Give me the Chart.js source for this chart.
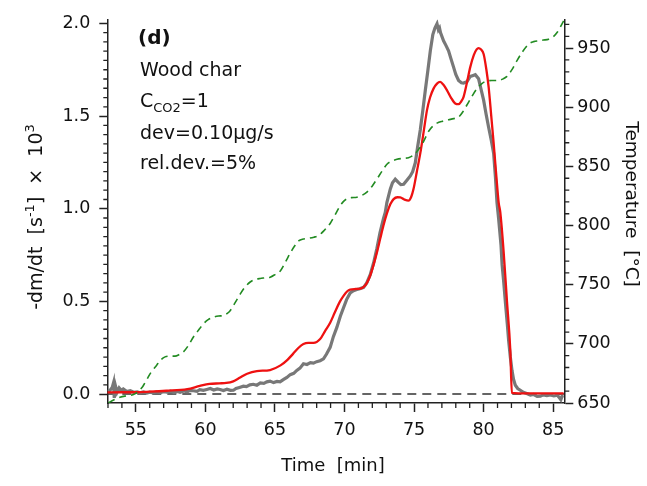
<!DOCTYPE html>
<html>
<head>
<meta charset="utf-8">
<script src="https://cdn.jsdelivr.net/npm/chart.js@4.4.1/dist/chart.umd.min.js"></script>
<style>
  html, body { margin: 0; padding: 0; background: #fff; }
</style>
</head>
<body>
<canvas id="tgaChart" width="647" height="486"></canvas>
<script>
// measured mass loss rate (grey), -dm/dt x 10^3 [1/s]
const timeMeasured = [
  53.0, 53.15, 53.3, 53.4, 53.45, 53.55, 53.65, 53.8, 53.95, 54.1, 54.35, 54.6, 54.85, 55.1, 55.3,
  55.55, 55.8, 56.0, 56.26, 56.5, 56.75, 57.0, 57.22, 57.5, 57.75, 58.0, 58.18, 58.45, 58.7, 58.9,
  59.14, 59.4, 59.6, 59.85, 60.1, 60.35, 60.6, 60.85, 61.06, 61.3, 61.55, 61.8, 62.02, 62.2, 62.45,
  62.73, 62.95, 63.2, 63.45, 63.7, 63.95, 64.2, 64.42, 64.65, 64.9, 65.15, 65.37, 65.6, 65.86, 66.1,
  66.35, 66.57, 66.8, 67.05, 67.3, 67.55, 67.77, 68.0, 68.25, 68.49, 68.7, 68.97, 69.2, 69.45, 69.7,
  69.93, 70.15, 70.41, 70.65, 70.89, 71.1, 71.37, 71.6, 71.85, 72.1, 72.33, 72.55, 72.8, 72.93, 73.05,
  73.29, 73.45, 73.65, 73.89, 74.05, 74.25, 74.5, 74.73, 74.9, 75.09, 75.25, 75.45, 75.63, 75.81, 76.0,
  76.17, 76.35, 76.5, 76.65, 76.75, 76.83, 76.9, 77.12, 77.3, 77.48, 77.65, 77.84, 78.0, 78.2, 78.4,
  78.56, 78.8, 79.04, 79.2, 79.4, 79.64, 79.8, 80.0, 80.18, 80.36, 80.55, 80.72, 80.85, 80.96, 81.08,
  81.25, 81.33, 81.45, 81.56, 81.7, 81.8, 81.92, 82.04, 82.15, 82.28, 82.45, 82.64, 82.85, 83.1, 83.36,
  83.6, 83.85, 84.08, 84.3, 84.55, 84.8, 85.05, 85.3, 85.45, 85.55, 85.65, 85.75
];
const rateMeasured = [
  0.015, 0.021, 0.035, 0.062, -0.02, 0.04, 0.01, 0.033, 0.02, 0.028, 0.014, 0.018, 0.01, 0.012, 0.007,
  0.012, 0.006, 0.01, 0.007, 0.012, 0.008, 0.013, 0.011, 0.016, 0.008, 0.014, 0.01, 0.017, 0.012, 0.02,
  0.018, 0.015, 0.024, 0.02, 0.025, 0.03, 0.022, 0.028, 0.025, 0.019, 0.026, 0.02, 0.021, 0.03, 0.036,
  0.043, 0.04, 0.05, 0.053, 0.048, 0.06, 0.058, 0.066, 0.07, 0.062, 0.068, 0.066, 0.078, 0.09, 0.105,
  0.112, 0.128, 0.14, 0.164, 0.16, 0.17, 0.167, 0.175, 0.18, 0.19, 0.215, 0.252, 0.31, 0.36, 0.42,
  0.466, 0.51, 0.546, 0.558, 0.564, 0.568, 0.576, 0.6, 0.644, 0.71, 0.786, 0.87, 0.946, 0.98, 1.035,
  1.106, 1.14, 1.159, 1.141, 1.13, 1.132, 1.155, 1.177, 1.2, 1.248, 1.33, 1.426, 1.53, 1.639, 1.75,
  1.852, 1.94, 1.975, 1.998, 1.965, 1.975, 1.95, 1.906, 1.88, 1.852, 1.81, 1.764, 1.725, 1.692, 1.68,
  1.678, 1.685, 1.714, 1.718, 1.723, 1.701, 1.65, 1.586, 1.51, 1.44, 1.37, 1.30, 1.17, 1.035, 0.946,
  0.804, 0.697, 0.6, 0.50, 0.38, 0.288, 0.2, 0.128, 0.08, 0.048, 0.03, 0.021, 0.01, 0.003, -0.005,
  -0.002, -0.012, -0.011, -0.004, -0.008, -0.005, -0.01, -0.006, -0.02, -0.03, -0.01, -0.008
];

// model fit (red)
const timeModel = [
  52.95, 54.0, 55.0, 56.0, 57.2, 58.7, 59.6, 60.3, 61.0, 61.5, 62.0, 62.5, 63.0, 63.7, 64.65,
  65.4, 65.9, 66.3, 66.7, 67.05, 67.4, 67.77, 68.25, 68.6, 68.97, 69.3, 69.64, 69.93, 70.2, 70.41,
  70.8, 71.13, 71.4, 71.61, 71.85, 72.09, 72.35, 72.57, 72.8, 73.05, 73.3, 73.53, 73.8, 74.01, 74.3,
  74.6, 74.8, 74.96, 75.2, 75.45, 75.7, 75.93, 76.15, 76.4, 76.65, 76.88, 77.1, 77.37, 77.65, 77.96,
  78.2, 78.4, 78.56, 78.8, 79.04, 79.3, 79.5, 79.64, 79.8, 80.0, 80.2, 80.36, 80.55, 80.72, 80.9,
  81.08, 81.2, 81.44, 81.68, 81.92, 82.03, 82.5, 83.5, 84.5, 85.75
];
const rateModel = [
  0.009, 0.01, 0.01, 0.013, 0.018, 0.027, 0.044, 0.055, 0.058, 0.06, 0.069, 0.09, 0.11, 0.124, 0.13,
  0.155, 0.185, 0.217, 0.25, 0.27, 0.276, 0.276, 0.297, 0.34, 0.385, 0.44, 0.495, 0.53, 0.555, 0.564,
  0.567, 0.569, 0.58, 0.6, 0.64, 0.697, 0.77, 0.839, 0.91, 0.975, 1.025, 1.052, 1.062, 1.061, 1.05,
  1.044, 1.065, 1.106, 1.2, 1.30, 1.42, 1.532, 1.6, 1.648, 1.675, 1.684, 1.67, 1.639, 1.6, 1.568,
  1.564, 1.58, 1.604, 1.68, 1.764, 1.83, 1.86, 1.867, 1.86, 1.835, 1.75, 1.657, 1.5, 1.355, 1.19,
  1.035, 0.98, 0.768, 0.50, 0.235, 0.006, 0.004, 0.004, 0.004, 0.004
];

// temperature (green dashed), right axis
const timeTemp = [
  53.03, 53.4, 53.86, 54.2, 54.58, 54.9, 55.18, 55.5, 55.78, 56.1, 56.5, 56.8, 57.1, 57.45, 57.82,
  58.1, 58.42, 58.8, 59.14, 59.5, 59.86, 60.2, 60.58, 60.95, 61.3, 61.55, 61.78, 62.15, 62.5, 62.85,
  63.22, 63.6, 63.94, 64.3, 64.66, 65.0, 65.37, 65.75, 66.1, 66.4, 66.7, 67.05, 67.41, 67.8, 68.13,
  68.55, 68.97, 69.3, 69.64, 69.9, 70.17, 70.5, 70.89, 71.25, 71.61, 72.0, 72.33, 72.7, 73.05, 73.4,
  73.77, 74.2, 74.6, 75.0, 75.33, 75.7, 76.05, 76.35, 76.65, 77.05, 77.48, 77.85, 78.2, 78.5, 78.8,
  79.15, 79.53, 79.9, 80.24, 80.65, 81.08, 81.4, 81.68, 82.05, 82.4, 82.8, 83.24, 83.6, 83.96, 84.3,
  84.68, 85.0, 85.28, 85.5, 85.75
];
const temperature = [
  650.2, 652.5, 654.8, 655.8, 656.3, 657.5, 659.8, 664, 669.6, 676, 682, 686.5, 689, 689.6, 689.6,
  690.8, 693.2, 699, 705.8, 711.5, 716.9, 720.5, 722.5, 723.5, 723.9, 725.5, 728, 735, 742, 748,
  752.3, 754.5, 755.3, 755.8, 756.4, 758.5, 761.4, 769, 776.7, 782.5, 787, 788.6, 789.2, 790.2, 791.5,
  796, 801.8, 808.5, 815.7, 820, 822.6, 823.6, 824, 825.5, 828.2, 833.5, 839.3, 846, 851.8, 854.5,
  856, 856.8, 857.4, 860, 864.4, 871.5, 879.7, 884, 886.6, 888.2, 889.4, 890.4, 891.7, 896, 901.9,
  909, 915.9, 920.2, 922.3, 922.6, 922.8, 924, 926.1, 932, 939.5, 947, 953.4, 955.5, 956.2, 956.8,
  957.6, 959.5, 963.2, 967.5, 973
];

const timeTicks = [55, 60, 65, 70, 75, 80, 85];
const rateTicks = [0, 0.5, 1.0, 1.5, 2.0];
const tempTicks = [650, 700, 750, 800, 850, 900, 950];
const timeRange = [52.95, 85.8];

const toPoints = (xs, ys) => xs.map((x, i) => ({ x: x, y: ys[i] }));

const FONT = 'DejaVu Sans';
const INK = '#111';

// minor ticks, axis titles and the panel note
const extras = {
  id: 'extras',
  afterDraw(chart) {
    const { ctx, chartArea: a, scales } = chart;
    ctx.save();
    ctx.strokeStyle = '#222';
    ctx.lineWidth = 1.3;
    ctx.beginPath();
    for (let v = 53; v <= 85; v++) {
      if (v % 5 === 0) continue;
      const x = scales.x.getPixelForValue(v);
      ctx.moveTo(x, a.bottom); ctx.lineTo(x, a.bottom + 5);
    }
    for (let i = 1; i < 40; i++) {
      if (i % 10 === 0) continue;
      const y = scales.y.getPixelForValue(i / 20);
      ctx.moveTo(a.left, y); ctx.lineTo(a.left - 4, y);
    }
    for (let v = 660; v <= 970; v += 10) {
      if (v % 50 === 0) continue;
      const y = scales.y2.getPixelForValue(v);
      ctx.moveTo(a.right, y); ctx.lineTo(a.right + 5, y);
    }
    ctx.stroke();

    ctx.fillStyle = INK;
    ctx.textBaseline = 'alphabetic';

    // x title
    ctx.font = '18px ' + FONT;
    ctx.textAlign = 'center';
    ctx.fillText('Time  [min]', 333, 471);

    // right title
    ctx.save();
    ctx.translate(626, 204);
    ctx.rotate(Math.PI / 2);
    ctx.font = '18.5px ' + FONT;
    ctx.fillText('Temperature  [°C]', 0, 0);
    ctx.restore();

    // left title with superscripts
    const parts = [
      ['-dm/dt  [s', 19, 0], ['-1', 13, -8], [']  ×  10', 19, 0], ['3', 13, -8]
    ];
    ctx.save();
    ctx.translate(42, 217);
    ctx.rotate(-Math.PI / 2);
    ctx.textAlign = 'left';
    let total = 0;
    parts.forEach(p => { ctx.font = p[1] + 'px ' + FONT; total += ctx.measureText(p[0]).width; });
    let cx = -total / 2;
    parts.forEach(p => {
      ctx.font = p[1] + 'px ' + FONT;
      ctx.fillText(p[0], cx, p[2]);
      cx += ctx.measureText(p[0]).width;
    });
    ctx.restore();

    // panel note
    ctx.textAlign = 'left';
    ctx.font = 'bold 20px ' + FONT;
    ctx.fillText('(d)', 138, 44);
    ctx.font = '19px ' + FONT;
    ctx.fillText('Wood char', 140, 76);
    ctx.fillText('C', 140, 107);
    let w = ctx.measureText('C').width;
    ctx.font = '13px ' + FONT;
    ctx.fillText('CO2', 140 + w, 112);
    w += ctx.measureText('CO2').width;
    ctx.font = '19px ' + FONT;
    ctx.fillText('=1', 140 + w, 107);
    ctx.fillText('dev=0.10µg/s', 140, 139);
    ctx.fillText('rel.dev.=5%', 140, 169);
    ctx.restore();
  }
};

const axisCommon = {
  border: { display: true, color: '#222', width: 1.5 },
  grid: { drawOnChartArea: false, drawTicks: true, color: '#222', tickColor: '#222', tickWidth: 1.5 },
  ticks: { color: INK, font: { family: FONT, size: 17.5 } }
};

const ctx = document.getElementById('tgaChart').getContext('2d');
const tgaChart = new Chart(ctx, {
  type: 'line',
  data: {
    datasets: [
      {
        label: 'Temperature',
        data: toPoints(timeTemp, temperature),
        yAxisID: 'y2',
        borderColor: '#228b22',
        borderWidth: 1.6,
        borderDash: [7, 5],
        pointRadius: 0,
        cubicInterpolationMode: 'monotone',
        order: 0
      },
      {
        label: 'model',
        data: toPoints(timeModel, rateModel),
        yAxisID: 'y',
        borderColor: '#ee1111',
        borderWidth: 2.3,
        pointRadius: 0,
        cubicInterpolationMode: 'monotone',
        order: 1
      },
      {
        label: 'measured',
        data: toPoints(timeMeasured, rateMeasured),
        yAxisID: 'y',
        borderColor: '#787878',
        borderWidth: 3.2,
        pointRadius: 0,
        tension: 0,
        order: 2
      },
      {
        label: 'zero',
        data: toPoints(timeRange, [0, 0]),
        yAxisID: 'y',
        borderColor: '#333',
        borderWidth: 1.5,
        borderDash: [9, 6],
        pointRadius: 0,
        order: 3
      }
    ]
  },
  options: {
    responsive: false,
    animation: false,
    devicePixelRatio: 1,
    layout: { padding: { top: 15, left: 0, right: 0, bottom: 0 } },
    plugins: { legend: { display: false }, tooltip: { enabled: false } },
    scales: {
      x: {
        type: 'linear',
        position: 'bottom',
        min: timeRange[0],
        max: timeRange[1],
        border: axisCommon.border,
        grid: { ...axisCommon.grid, tickLength: 9 },
        ticks: { ...axisCommon.ticks, padding: 8, maxRotation: 0 },
        afterBuildTicks: s => { s.ticks = timeTicks.map(v => ({ value: v })); },
        afterFit: s => { s.height = 83; }
      },
      y: {
        type: 'linear',
        position: 'left',
        min: -0.048,
        max: 2.021,
        border: axisCommon.border,
        grid: { ...axisCommon.grid, tickLength: 8 },
        ticks: { ...axisCommon.ticks, padding: 9, callback: v => v.toFixed(1) },
        afterBuildTicks: s => { s.ticks = rateTicks.map(v => ({ value: v })); },
        afterFit: s => { s.width = 107.3; }
      },
      y2: {
        type: 'linear',
        position: 'right',
        min: 650,
        max: 974.2,
        border: axisCommon.border,
        grid: { ...axisCommon.grid, tickLength: 9 },
        ticks: { ...axisCommon.ticks, padding: 4 },
        afterBuildTicks: s => { s.ticks = tempTicks.map(v => ({ value: v })); },
        afterFit: s => { s.width = 82.7; }
      }
    }
  },
  plugins: [extras]
});
</script>
</body>
</html>
